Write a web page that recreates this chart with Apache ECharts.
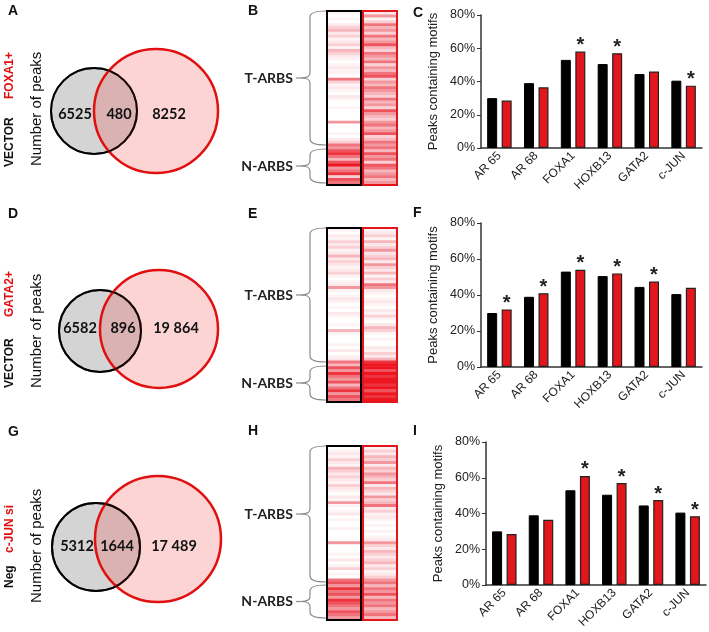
<!DOCTYPE html>
<html><head><meta charset="utf-8">
<script src="https://cdn.jsdelivr.net/npm/echarts@6/dist/echarts.min.js"></script>
<style>html,body{margin:0;padding:0;background:#fff}#c{width:709px;height:632px}</style>
</head><body><div id="c"></div>
<script>
// ---------- DATA ----------
const motifs = ['AR 65', 'AR 68', 'FOXA1', 'HOXB13', 'GATA2', 'c-JUN'];
const pctTicks = [0, 20, 40, 60, 80];

const vectorPctC = [30, 39, 53, 50.5, 44.5, 40.5];
const foxa1Pct = [28.5, 36.5, 58, 57, 46, 37.5];
const foxa1Sig = [0, 0, 1, 1, 0, 1];

const vectorPctF = [30, 39, 53, 50.5, 44.5, 40.5];
const gata2Pct = [32, 41, 54, 52, 47.5, 44];
const gata2Sig = [1, 1, 1, 1, 1, 0];

const negPctI = [30, 39, 53, 50.5, 44.5, 40.5];
const cjunPct = [28.5, 36.5, 61, 57, 47.5, 38.5];
const cjunSig = [0, 0, 1, 1, 1, 1];

// Venn counts: [control only, overlap, treatment only]
const vennA = [6525, 480, 8252];
const vennD = [6582, 896, 19864];
const vennG = [5312, 1644, 17489];
const vennLabels = [['VECTOR', 'FOXA1+'], ['VECTOR', 'GATA2+'], ['Neg', 'c-JUN si']];

// Heatmap stripes (0 = white, 9 = strong red), top to bottom; T-ARBS rows then N-ARBS rows
const hmB_vecT = [1,0,1,0,2,3,4,2,3,1, 2,3,1,4,3,2,1,0,1,2, 1,1,0,6,3,1,2,1,0,2, 1,0,0,1,0,0,0,0,5,0, 0,0,1,0,2,3];
const hmB_vecN = [6,5,7,8,6,4,7,9,5,6,8,3,7,6];
const hmB_redT = [2,5,1,3,6,4,5,3,6,4, 5,7,4,3,6,5,4,6,3,5, 4,6,7,3,5,4,6,5,4,3, 6,4,5,3,7,5,4,3,5,6, 4,5,7,3,4,6];
const hmB_redN = [5,6,4,7,5,6,3,7,6,4,5,6,4,5];
const hmE_vecT = [1,0,2,1,3,2,3,1,2,4, 2,3,2,1,2,3,1,0,1,2, 5,1,0,1,2,1,0,1,0,2, 1,0,0,1,0,4,1,0,0,0, 1,0,2,0,1,2];
const hmE_vecN = [6,4,7,5,8,6,5,7,4,6,8,5,7,6];
const hmE_redT = [1,2,3,1,4,2,3,5,2,3, 4,2,5,3,2,4,1,3,2,6, 5,2,1,0,1,2,1,0,2,1, 3,1,0,2,4,3,1,0,1,0, 0,2,1,3,2,4];
const hmE_redN = [8,9,9,7,9,8,9,9,8,9,7,9,8,9];
const hmH_vecT = [0,1,2,1,3,2,1,4,3,2, 3,2,1,3,2,1,0,2,1,5, 1,0,1,2,0,1,0,0,1,0, 0,0,0,5,0,0,0,1,0,2, 0,1,3,0,1,0];
const hmH_vecN = [6,7,5,8,6,7,5,8,7,6,5,7,6,5];
const hmH_redT = [1,3,2,4,3,5,2,4,3,5, 4,3,6,2,4,3,2,5,3,4, 6,2,3,1,2,1,0,1,0,1, 0,1,2,5,3,2,4,3,2,3, 4,2,3,1,2,3];
const hmH_redN = [5,6,4,6,5,7,4,6,5,6,4,5,6,4];

// ---------- BUILD ----------
const RED = '#e3161b';
const AX = '#333';
const ARIAL = 'Liberation Sans, Arial, sans-serif';
const CAL = 'Lato, "Open Sans", sans-serif';

const grids = [], xAxes = [], yAxes = [], series = [], graphics = [];

function addBar(box, ctrl, treat, sig) {
  const gi = grids.length;
  grids.push(Object.assign({containLabel: false}, box));
  xAxes.push({
    gridIndex: gi, type: 'category', data: motifs,
    axisLine: {lineStyle: {color: AX, width: 1.5}},
    axisTick: {alignWithLabel: true, length: 4, lineStyle: {color: AX}},
    axisLabel: {rotate: 45, interval: 0, fontSize: 12, color: '#222', fontFamily: ARIAL, margin: 6}
  });
  yAxes.push({
    gridIndex: gi, type: 'value', min: pctTicks[0], max: pctTicks[pctTicks.length - 1], interval: pctTicks[1] - pctTicks[0],
    name: 'Peaks containing motifs', nameLocation: 'middle', nameGap: 41,
    nameTextStyle: {fontSize: 13, color: '#222', fontFamily: ARIAL},
    axisLine: {show: true, lineStyle: {color: AX, width: 1.5}},
    axisTick: {show: true, length: 4, lineStyle: {color: AX}},
    splitLine: {show: false},
    axisLabel: {formatter: '{value}%', fontSize: 12.5, color: '#222', fontFamily: ARIAL, margin: 6}
  });
  series.push({
    type: 'bar', xAxisIndex: gi, yAxisIndex: gi, data: ctrl, barWidth: 10, barGap: '45%',
    itemStyle: {color: '#000', borderColor: '#000', borderWidth: 1}, silent: true
  });
  series.push({
    type: 'bar', xAxisIndex: gi, yAxisIndex: gi, data: treat, barWidth: 10, barGap: '45%',
    itemStyle: {color: RED, borderColor: '#222', borderWidth: 1.2}, silent: true,
    label: {show: true, position: 'top', distance: -4, formatter: p => sig[p.dataIndex] ? '*' : '',
      fontSize: 20, fontWeight: 'bold', color: '#222', fontFamily: ARIAL}
  });
}

addBar({left: 481, top: 15, width: 221, height: 133}, vectorPctC, foxa1Pct, foxa1Sig);
addBar({left: 481, top: 223, width: 221, height: 144}, vectorPctF, gata2Pct, gata2Sig);
addBar({left: 486, top: 442, width: 220, height: 143}, negPctI, cjunPct, cjunSig);

const hmSeriesIdx = [];
function addHeatCol(left, top, height, rowsT, rowsN, stroke) {
  const rows = rowsT.concat(rowsN);
  const gi = grids.length;
  grids.push({left: left + 1, top: top + 1, width: 32, height: height - 2});
  xAxes.push({gridIndex: gi, type: 'category', data: ['c'], show: false});
  yAxes.push({gridIndex: gi, type: 'category', data: rows.map((_, i) => i), inverse: true, show: false});
  hmSeriesIdx.push(series.length);
  series.push({type: 'heatmap', xAxisIndex: gi, yAxisIndex: gi, silent: true,
    data: rows.map((v, i) => [0, i, v]), itemStyle: {borderWidth: 0}});
  graphics.push({type: 'rect', z: 100, shape: {x: left, y: top, width: 34, height: height},
    style: {fill: 'none', stroke: stroke, lineWidth: 2}});
}

const BRACE_STYLE = {fill: 'none', stroke: '#8a8a8a', lineWidth: 1.2};
function brace(y0, y1) {
  const xe = 326, xl = 310, xt = 301, ym = (y0 + y1) / 2;
  const q = (x1, y1_, cx, cy, x2, y2) => ({type: 'bezierCurve', shape: {x1: x1, y1: y1_, cpx1: cx, cpy1: cy, x2: x2, y2: y2}, style: BRACE_STYLE});
  const l = (x1, y1_, x2, y2) => ({type: 'line', shape: {x1: x1, y1: y1_, x2: x2, y2: y2}, style: BRACE_STYLE});
  graphics.push(
    q(xe, y0, xl, y0, xl, y0 + 6),
    l(xl, y0 + 6, xl, ym - 5),
    q(xl, ym - 5, xl, ym, xt, ym),
    l(xt, ym, xt - 5, ym),
    q(xt, ym, xl, ym, xl, ym + 5),
    l(xl, ym + 5, xl, y1 - 6),
    q(xl, y1 - 6, xl, y1, xe, y1)
  );
}

function addHeatPanel(top, split, splitN, bottom, vT, vN, rT, rN) {
  addHeatCol(327, top, bottom - top, vT, vN, '#000');
  addHeatCol(363, top, bottom - top, rT, rN, RED);
  brace(top, split);
  brace(splitN, bottom - 2);
  graphics.push({type: 'text', x: 293, y: (top + split) / 2, style: {text: 'T-ARBS', align: 'right', verticalAlign: 'middle',
    font: 'bold 14px ' + CAL, fill: '#222'}});
  graphics.push({type: 'text', x: 293, y: (splitN + bottom - 2) / 2, style: {text: 'N-ARBS', align: 'right', verticalAlign: 'middle',
    font: 'bold 14px ' + CAL, fill: '#222'}});
}

addHeatPanel(11, 145, 149, 185, hmB_vecT, hmB_vecN, hmB_redT, hmB_redN);
addHeatPanel(228, 362, 366, 402, hmE_vecT, hmE_vecN, hmE_redT, hmE_redN);
addHeatPanel(446, 582, 585, 620, hmH_vecT, hmH_vecN, hmH_redT, hmH_redN);

function fmt(n) { return n >= 10000 ? String(n).replace(/(\d)(?=(\d{3})$)/, '$1 ') : String(n); }

// vertical text reading bottom-to-top, starting at (x, yBottom)
function vText(x, yBottom, text, font, fill) {
  graphics.push({type: 'text', x: x, y: yBottom, rotation: Math.PI / 2,
    style: {text: text, align: 'left', verticalAlign: 'middle', font: font, fill: fill}});
}

function addVenn(counts, names, blk, red, labX, labY, ctrlY, treatY, numY) {
  graphics.push({type: 'circle', shape: {cx: blk[0], cy: blk[1], r: blk[2]}, style: {fill: '#d4d4d4', stroke: '#000', lineWidth: 2}});
  graphics.push({type: 'circle', shape: {cx: red[0], cy: red[1], r: red[2]}, style: {fill: 'rgba(240,60,60,0.22)', stroke: '#e01010', lineWidth: 2.5}});
  graphics.push({type: 'circle', shape: {cx: blk[0], cy: blk[1], r: blk[2]}, style: {fill: 'none', stroke: 'rgba(0,0,0,0.6)', lineWidth: 2}});
  counts.forEach((c, i) => graphics.push({type: 'text', x: labX[i], y: labY, z: 10,
    style: {text: fmt(c), align: 'center', verticalAlign: 'middle', font: 'bold 14.5px ' + CAL, fill: '#111'}}));
  vText(10, ctrlY, names[0], 'bold 12px ' + ARIAL, '#111');
  vText(10, treatY, names[1], 'bold 12px ' + ARIAL, '#e01010');
  vText(37, numY, 'Number of peaks', '15px ' + ARIAL, '#111');
}

addVenn(vennA, vennLabels[0], [94, 111, 43], [156, 111, 62], [75, 119, 169], 114, 167, 99, 166);
addVenn(vennD, vennLabels[1], [100, 331, 41], [159, 329, 59], [80, 123, 176], 328, 388, 317, 388);
addVenn(vennG, vennLabels[2], [96, 547, 44], [158, 539, 63], [77, 117, 174], 546, 588, 553, 603);

[['A', 8, 11], ['B', 248, 11], ['C', 413, 13], ['D', 8, 214], ['E', 248, 214], ['F', 413, 213],
 ['G', 8, 432], ['H', 248, 431], ['I', 413, 431]].forEach(([t, x, y]) =>
  graphics.push({type: 'text', x: x, y: y, style: {text: t, verticalAlign: 'middle', font: 'bold 14px ' + ARIAL, fill: '#111'}}));

const chart = echarts.init(document.getElementById('c'), null, {renderer: 'canvas'});
chart.setOption({
  animation: false,
  backgroundColor: '#fff',
  grid: grids, xAxis: xAxes, yAxis: yAxes, series: series,
  visualMap: {show: false, type: 'continuous', min: 0, max: 9, seriesIndex: hmSeriesIdx,
    inRange: {color: ['#ffffff', '#fce4e7', '#f5a9b0', '#ee5a63', '#ec1520']}},
  graphic: {elements: graphics}
});
</script></body></html>
